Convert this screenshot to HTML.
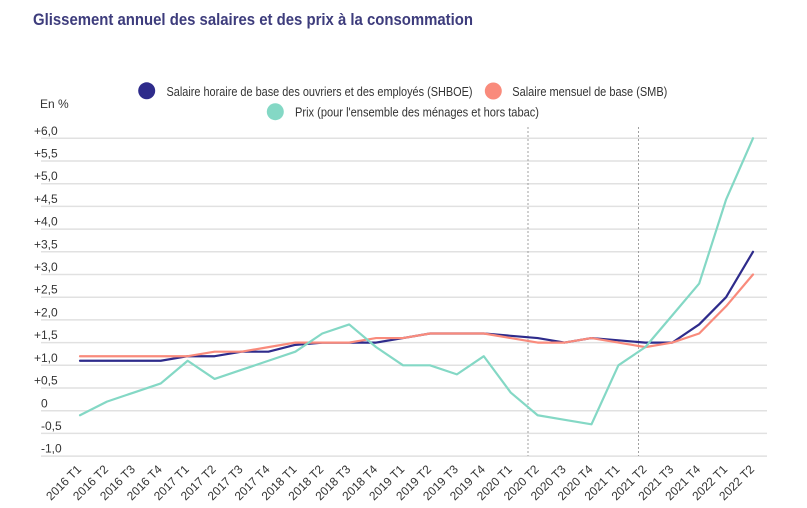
<!DOCTYPE html>
<html>
<head>
<meta charset="utf-8">
<style>
  html,body{margin:0;padding:0;background:#fff;}
  svg{display:block;}
  text{font-family:"Liberation Sans",Arial,sans-serif;}
</style>
</head>
<body>
<svg width="807" height="508" viewBox="0 0 807 508" xmlns="http://www.w3.org/2000/svg">
  <rect width="807" height="508" fill="#fff"/>
  <text x="33" y="25" font-size="17" font-weight="bold" fill="#3d3c7c" textLength="440" lengthAdjust="spacingAndGlyphs">Glissement annuel des salaires et des prix à la consommation</text>

  <!-- legend -->
  <circle cx="146.7" cy="90.8" r="8.5" fill="#2e2b8b"/>
  <text x="166.5" y="96" font-size="13" fill="#333" textLength="306" lengthAdjust="spacingAndGlyphs">Salaire horaire de base des ouvriers et des employés (SHBOE)</text>
  <circle cx="493.3" cy="91" r="8.5" fill="#f98b7c"/>
  <text x="512.3" y="96" font-size="13" fill="#333" textLength="155" lengthAdjust="spacingAndGlyphs">Salaire mensuel de base (SMB)</text>
  <circle cx="275.3" cy="111.7" r="8.5" fill="#84d8c5"/>
  <text x="295" y="116.5" font-size="13" fill="#333" textLength="244" lengthAdjust="spacingAndGlyphs">Prix (pour l'ensemble des ménages et hors tabac)</text>

  <text x="40" y="108" font-size="12" fill="#333">En %</text>

  <!-- gridlines -->
  <g stroke="#e1e1e1" stroke-width="1.5">
    <line x1="41" x2="767" y1="138.3" y2="138.3"/>
    <line x1="41" x2="767" y1="161.0" y2="161.0"/>
    <line x1="41" x2="767" y1="183.7" y2="183.7"/>
    <line x1="41" x2="767" y1="206.4" y2="206.4"/>
    <line x1="41" x2="767" y1="229.1" y2="229.1"/>
    <line x1="41" x2="767" y1="251.8" y2="251.8"/>
    <line x1="41" x2="767" y1="274.5" y2="274.5"/>
    <line x1="41" x2="767" y1="297.2" y2="297.2"/>
    <line x1="41" x2="767" y1="319.9" y2="319.9"/>
    <line x1="41" x2="767" y1="342.6" y2="342.6"/>
    <line x1="41" x2="767" y1="365.3" y2="365.3"/>
    <line x1="41" x2="767" y1="388.0" y2="388.0"/>
    <line x1="41" x2="767" y1="410.7" y2="410.7"/>
    <line x1="41" x2="767" y1="433.4" y2="433.4"/>
    <line x1="41" x2="767" y1="456.1" y2="456.1"/>
  </g>

  <!-- y labels -->
  <g font-size="12" fill="#333">
    <text x="34" y="134.8">+6,0</text>
    <text x="34" y="157.5">+5,5</text>
    <text x="34" y="180.2">+5,0</text>
    <text x="34" y="202.9">+4,5</text>
    <text x="34" y="225.6">+4,0</text>
    <text x="34" y="248.3">+3,5</text>
    <text x="34" y="271.0">+3,0</text>
    <text x="34" y="293.7">+2,5</text>
    <text x="34" y="316.4">+2,0</text>
    <text x="34" y="339.1">+1,5</text>
    <text x="34" y="361.8">+1,0</text>
    <text x="34" y="384.5">+0,5</text>
    <text x="41" y="407.7">0</text>
    <text x="41" y="429.9">-0,5</text>
    <text x="41" y="452.6">-1,0</text>
  </g>

  <!-- dashed markers -->
  <g stroke="#a0a0a0" stroke-width="1" stroke-dasharray="2,2">
    <line x1="528" x2="528" y1="127" y2="456"/>
    <line x1="638.5" x2="638.5" y1="127" y2="456"/>
  </g>

  <!-- series -->
  <g fill="none" stroke-width="2.2" stroke-linejoin="round" stroke-linecap="round">
    <polyline stroke="#2e2b8b" points="80,360.76 106.92,360.76 133.84,360.76 160.76,360.76 187.68,356.22 214.6,356.22 241.52,351.68 268.44,351.68 295.36,344.87 322.28,342.6 349.2,342.6 376.12,342.6 403.04,338.06 429.96,333.52 456.88,333.52 483.8,333.52 510.72,335.79 537.64,338.06 564.56,342.6 591.48,338.06 618.4,340.33 645.32,342.6 672.24,342.6 699.16,324.44 726.08,297.2 753,251.8"/>
    <polyline stroke="#f98b7c" points="80,356.22 106.92,356.22 133.84,356.22 160.76,356.22 187.68,356.22 214.6,351.68 241.52,351.68 268.44,347.14 295.36,342.6 322.28,342.6 349.2,342.6 376.12,338.06 403.04,338.06 429.96,333.52 456.88,333.52 483.8,333.52 510.72,338.06 537.64,342.6 564.56,342.6 591.48,338.06 618.4,342.6 645.32,347.14 672.24,342.6 699.16,333.52 726.08,306.28 753,274.5"/>
    <polyline stroke="#84d8c5" points="80,415.24 106.92,401.62 133.84,392.54 160.76,383.46 187.68,360.76 214.6,378.92 241.52,369.84 268.44,360.76 295.36,351.68 322.28,333.52 349.2,324.44 376.12,347.14 403.04,365.3 429.96,365.3 456.88,374.38 483.8,356.22 510.72,392.54 537.64,415.24 564.56,419.78 591.48,424.32 618.4,365.3 645.32,347.14 672.24,315.36 699.16,283.58 726.08,199.59 753,138.3"/>
  </g>

  <!-- x labels -->
  <g font-size="12" fill="#333" text-anchor="end">
    <text transform="translate(82,470) rotate(-45)">2016 T1</text>
    <text transform="translate(108.92,470) rotate(-45)">2016 T2</text>
    <text transform="translate(135.84,470) rotate(-45)">2016 T3</text>
    <text transform="translate(162.76,470) rotate(-45)">2016 T4</text>
    <text transform="translate(189.68,470) rotate(-45)">2017 T1</text>
    <text transform="translate(216.6,470) rotate(-45)">2017 T2</text>
    <text transform="translate(243.52,470) rotate(-45)">2017 T3</text>
    <text transform="translate(270.44,470) rotate(-45)">2017 T4</text>
    <text transform="translate(297.36,470) rotate(-45)">2018 T1</text>
    <text transform="translate(324.28,470) rotate(-45)">2018 T2</text>
    <text transform="translate(351.2,470) rotate(-45)">2018 T3</text>
    <text transform="translate(378.12,470) rotate(-45)">2018 T4</text>
    <text transform="translate(405.04,470) rotate(-45)">2019 T1</text>
    <text transform="translate(431.96,470) rotate(-45)">2019 T2</text>
    <text transform="translate(458.88,470) rotate(-45)">2019 T3</text>
    <text transform="translate(485.8,470) rotate(-45)">2019 T4</text>
    <text transform="translate(512.72,470) rotate(-45)">2020 T1</text>
    <text transform="translate(539.64,470) rotate(-45)">2020 T2</text>
    <text transform="translate(566.56,470) rotate(-45)">2020 T3</text>
    <text transform="translate(593.48,470) rotate(-45)">2020 T4</text>
    <text transform="translate(620.4,470) rotate(-45)">2021 T1</text>
    <text transform="translate(647.32,470) rotate(-45)">2021 T2</text>
    <text transform="translate(674.24,470) rotate(-45)">2021 T3</text>
    <text transform="translate(701.16,470) rotate(-45)">2021 T4</text>
    <text transform="translate(728.08,470) rotate(-45)">2022 T1</text>
    <text transform="translate(755,470) rotate(-45)">2022 T2</text>
  </g>
</svg>
</body>
</html>
